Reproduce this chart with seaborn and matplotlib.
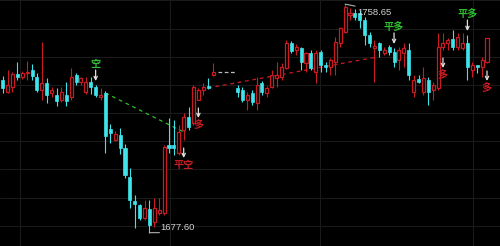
import numpy as np
import pandas as pd
import matplotlib
matplotlib.use("Agg")
import matplotlib.pyplot as plt
import seaborn as sns

nan = np.nan
opens = [1731.74, 1727.48, 1729.26, 1733.87, 1732.80, 1734.22, 1735.28, 1732.80, 1728.19, 1730.67,
         1727.13, 1726.42, 1724.65, 1726.42, 1725.71, 1733.51, 1731.03, 1727.48, 1731.03, 1729.26,
         1725.71, 1727.13, 1714.36, 1710.46, 1712.23, 1707.62, 1697.34, 1688.83, 1687.41, 1682.80,
         1685.99, 1681.38, 1684.57, 1684.57, 1708.69, 1708.69, 1705.85, 1714.01, 1718.62, 1716.49,
         1724.65, 1728.19, 1729.61, 1733.51, nan, nan, nan, nan, 1728.90, 1728.19,
         1724.65, 1727.13, 1723.58, 1730.67, 1727.13, 1729.26, 1732.45, 1732.80, 1735.99, 1744.86,
         1742.38, 1743.09, 1737.77, 1741.31, 1734.57, 1741.67, 1737.06, 1736.35, 1738.12, 1744.86,
         1748.76, 1754.79, 1755.50, 1755.50, 1753.01, 1747.70, 1743.09, 1744.86, 1741.31, 1743.44,
         1741.67, 1738.83, 1741.31, 1742.38, 1727.48, 1732.09, 1727.48, 1731.74, 1728.19, 1728.90,
         1743.44, 1744.86, 1746.28, 1743.44, 1743.09, 1744.86, 1735.28, 1737.06, 1736.35, 1738.12]
highs = [1733.16, 1735.28, 1734.57, 1738.12, 1734.93, 1738.48, 1737.41, 1734.22, 1745.21, 1732.45,
         1729.26, 1728.90, 1729.26, 1731.03, 1735.99, 1734.22, 1732.80, 1732.80, 1732.80, 1729.96,
         1728.90, 1727.84, 1716.13, 1713.65, 1714.72, 1709.04, 1700.53, 1690.96, 1687.77, 1689.18,
         1689.18, 1689.89, 1689.89, 1708.69, 1718.26, 1717.55, 1715.78, 1720.04, 1722.16, 1729.96,
         1728.90, 1730.67, 1732.45, 1737.77, nan, nan, nan, nan, 1729.96, 1729.26,
         1727.48, 1728.19, 1732.80, 1731.38, 1729.61, 1735.28, 1738.12, 1737.77, 1745.92, 1745.57,
         1744.50, 1743.44, 1741.67, 1742.38, 1742.38, 1742.38, 1738.12, 1739.54, 1746.99, 1750.53,
         1758.65, 1757.27, 1756.92, 1756.56, 1754.08, 1748.76, 1745.92, 1745.21, 1743.44, 1744.15,
         1743.09, 1743.44, 1744.86, 1744.86, 1733.51, 1733.51, 1736.35, 1732.80, 1731.03, 1748.40,
         1748.40, 1746.63, 1749.47, 1748.40, 1748.40, 1747.70, 1738.12, 1737.06, 1739.89, 1746.63]
lows = [1727.13, 1727.13, 1727.48, 1731.74, 1732.09, 1731.74, 1731.74, 1727.48, 1724.65, 1723.58,
        1725.71, 1722.52, 1723.94, 1722.52, 1724.65, 1729.96, 1729.96, 1726.77, 1726.77, 1725.71,
        1724.65, 1705.85, 1709.40, 1710.11, 1705.50, 1696.99, 1686.35, 1679.26, 1682.09, 1682.09,
        1677.60, 1679.61, 1683.87, 1683.87, 1705.85, 1705.14, 1705.14, 1710.46, 1714.01, 1715.78,
        1724.65, 1726.42, 1728.55, 1733.16, nan, nan, nan, nan, 1725.71, 1723.94,
        1721.10, 1722.87, 1721.10, 1726.42, 1725.71, 1728.90, 1729.26, 1731.74, 1735.64, 1741.31,
        1740.60, 1735.28, 1734.57, 1735.28, 1730.67, 1734.57, 1734.57, 1733.51, 1733.51, 1743.44,
        1748.40, 1753.01, 1753.01, 1750.18, 1744.15, 1743.44, 1731.03, 1739.89, 1740.60, 1740.60,
        1736.35, 1735.28, 1736.35, 1731.74, 1725.71, 1730.67, 1726.42, 1722.87, 1724.65, 1728.19,
        1742.38, 1742.38, 1742.38, 1742.38, 1742.38, 1731.74, 1732.80, 1734.22, 1732.80, 1737.77]
closes = [1728.90, 1729.96, 1733.87, 1732.80, 1734.22, 1734.57, 1733.16, 1728.19, 1730.67, 1726.42,
          1728.19, 1724.29, 1727.48, 1724.29, 1732.80, 1731.03, 1732.45, 1731.03, 1729.26, 1726.42,
          1726.42, 1711.88, 1712.94, 1712.59, 1707.62, 1698.05, 1689.18, 1687.77, 1682.80, 1686.35,
          1680.32, 1686.35, 1685.64, 1707.98, 1707.62, 1707.62, 1713.30, 1718.62, 1715.07, 1729.26,
          1728.19, 1729.26, 1728.90, 1734.57, nan, nan, nan, nan, 1727.48, 1724.65,
          1726.42, 1723.94, 1729.96, 1727.48, 1728.90, 1733.51, 1733.51, 1736.35, 1744.86, 1742.02,
          1743.44, 1738.12, 1741.31, 1735.99, 1741.31, 1737.06, 1736.35, 1738.83, 1745.21, 1750.18,
          1757.62, 1755.50, 1754.08, 1753.01, 1747.70, 1744.86, 1743.79, 1742.38, 1742.38, 1741.67,
          1738.12, 1742.38, 1743.09, 1733.51, 1731.74, 1731.03, 1732.45, 1727.48, 1729.96, 1743.44,
          1744.86, 1745.92, 1743.44, 1746.99, 1744.86, 1736.35, 1737.06, 1736.35, 1738.83, 1746.63]

# trade signals: (bar index, label, kind)
signal_bars = [19, 37, 40, 80, 90, 95, 99]
signal_text = ["空", "平空", "多", "平多", "多", "平多", "多"]
signal_side = ["sell", "buy", "buy", "sell", "buy", "sell", "buy"]

# dashed position lines (bar index, price)
short_line_x = [21, 37]
short_line_y = [1727.13, 1713.30]
long_line_x = [42, 76.5]
long_line_y = [1728.90, 1739.89]
pending_x = [44, 47.5]
pending_y = [1734.57, 1734.57]

hgrid = [1680, 1690, 1700, 1710, 1720, 1730, 1740, 1750, 1760]
vgrid = [3.5, 34.2, 64.9, 96.1]

sns.set_style("dark", {"axes.facecolor": "black", "figure.facecolor": "black"})
plt.rcParams["font.family"] = ["Noto Sans CJK SC", "DejaVu Sans"]

RED = "#c81c22"
CYAN = "#3fe3ea"
GREEN = "#2fbf2f"

df = pd.DataFrame({"o": opens, "h": highs, "l": lows, "c": closes})
df["x"] = np.arange(len(df))

fig = plt.figure(figsize=(5.0, 2.46), dpi=100, facecolor="black")
ax = fig.add_axes([0, 0, 1, 1])
ax.set_facecolor("black")
ax.set_xlim(-0.55, 101.66)
ax.set_ylim(1672.87, 1760.11)
for p in hgrid:
    ax.axhline(p, color="#1a1a1a", lw=0.8, zorder=0)
for v in vgrid:
    ax.axvline(v, color="#1a1a1a", lw=0.8, zorder=0)

W = 0.62
up = df[df.c >= df.o]
dn = df[df.c < df.o]
# wicks
ax.vlines(dn.x, dn.l, dn.h, color=CYAN, lw=0.8, zorder=2)
ax.vlines(up.x, up.l, up.o, color=RED, lw=0.8, zorder=2)
ax.vlines(up.x, up.c, up.h, color=RED, lw=0.8, zorder=2)
# bodies
ax.bar(dn.x, np.maximum(dn.o - dn.c, 0.25), bottom=dn.c, width=W, color=CYAN,
       edgecolor=CYAN, lw=0.5, zorder=3)
ax.bar(up.x, np.maximum(up.c - up.o, 0.25), bottom=up.o, width=W, facecolor="black",
       edgecolor=RED, lw=0.9, zorder=3)

# dashed lines
sns.lineplot(x=short_line_x, y=short_line_y, ax=ax, color=GREEN, lw=0.9,
             linestyle=(0, (3, 3)), zorder=1)
sns.lineplot(x=long_line_x, y=long_line_y, ax=ax, color=RED, lw=0.9,
             linestyle=(0, (3, 3)), zorder=1)
sns.lineplot(x=pending_x, y=pending_y, ax=ax, color="#bbbbbb", lw=0.9,
             linestyle=(0, (3, 2)), zorder=1)

PX = 0.72  # points per pixel at 100 dpi
for i, t, s in zip(signal_bars, signal_text, signal_side):
    if s == "sell":
        y0 = highs[i]
        ax.annotate("", xy=(i, y0), xytext=(0, 15 * PX), textcoords="offset points",
                    arrowprops=dict(arrowstyle="->", color="#e0e0e0", lw=0.9,
                                    shrinkA=0, shrinkB=4 * PX, mutation_scale=6))
        ax.annotate(t, xy=(i, y0), xytext=(0, 21 * PX), textcoords="offset points",
                    ha="center", va="center", fontsize=7.3, color=GREEN,
                    fontweight="bold")
    else:
        y0 = lows[i]
        ax.annotate("", xy=(i, y0), xytext=(0, -18 * PX), textcoords="offset points",
                    arrowprops=dict(arrowstyle="<-", color="#e0e0e0", lw=0.9,
                                    shrinkA=0, shrinkB=8 * PX, mutation_scale=6))
        ax.annotate(t, xy=(i, y0), xytext=(0, -25 * PX), textcoords="offset points",
                    ha="center", va="center", fontsize=7.3, color=RED,
                    fontweight="bold")

# high / low labels
hi_i = int(np.nanargmax(highs))
lo_i = int(np.nanargmin(lows))
ax.annotate("", xy=(hi_i, highs[hi_i]), xytext=(10 * PX, -2 * PX), textcoords="offset points",
            arrowprops=dict(arrowstyle="-", color="#b0b0b0", lw=0.8, shrinkA=0, shrinkB=0))
ax.annotate(f"{highs[hi_i]:.2f}", xy=(hi_i, highs[hi_i]), xytext=(12 * PX, -4 * PX),
            textcoords="offset points", ha="left", va="top", fontsize=6.8,
            color="#d4d4d4", family="Liberation Sans")
ax.annotate("", xy=(lo_i, lows[lo_i]), xytext=(10 * PX, 0), textcoords="offset points",
            arrowprops=dict(arrowstyle="-", color="#b0b0b0", lw=0.8, shrinkA=0, shrinkB=0))
ax.annotate(f"{lows[lo_i]:.2f}", xy=(lo_i, lows[lo_i]), xytext=(11 * PX, 1 * PX),
            textcoords="offset points", ha="left", va="bottom", fontsize=6.8,
            color="#d4d4d4", family="Liberation Sans")

ax.set_xticks([])
ax.set_yticks([])
for sp in ax.spines.values():
    sp.set_visible(False)
ax.set_xlabel("")
ax.set_ylabel("")
if ax.get_legend():
    ax.get_legend().remove()

fig.savefig("out.png", dpi=100, facecolor="black")
